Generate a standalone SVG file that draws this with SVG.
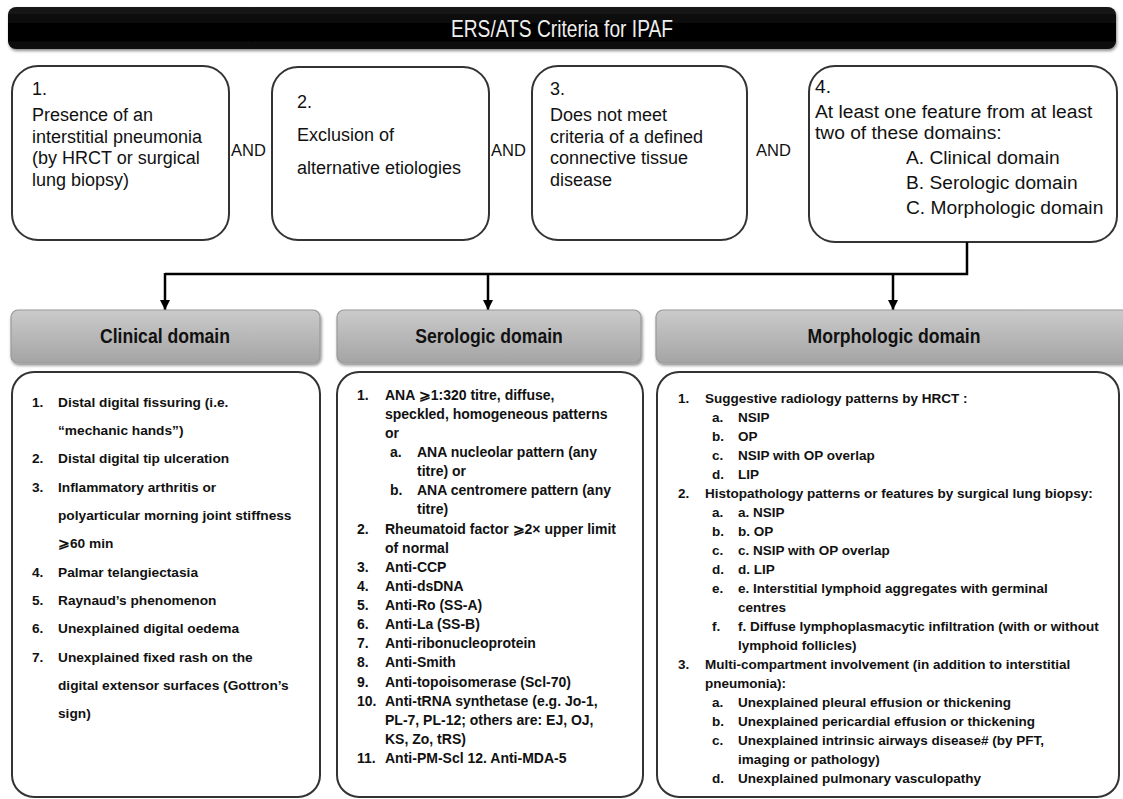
<svg xmlns="http://www.w3.org/2000/svg" width="1123" height="799" viewBox="0 0 1123 799">
<defs>
<linearGradient id="hdr" x1="0" y1="0" x2="0" y2="1">
<stop offset="0" stop-color="#cbcbcb"/>
<stop offset="1" stop-color="#a4a4a4"/>
</linearGradient>
<linearGradient id="ttl" x1="0" y1="0" x2="0" y2="1">
<stop offset="0" stop-color="#1a1a1a"/>
<stop offset="0.5" stop-color="#000"/>
<stop offset="1" stop-color="#0a0a0a"/>
</linearGradient>
<filter id="sh" x="-5%" y="-20%" width="110%" height="150%">
<feDropShadow dx="1" dy="2" stdDeviation="1.5" flood-color="#000" flood-opacity="0.45"/>
</filter>
<marker id="arr" viewBox="0 0 10 10" refX="10" refY="5" markerWidth="10" markerHeight="10" markerUnits="userSpaceOnUse" orient="auto">
<path d="M0,0 L10,5 L0,10 z" fill="#000"/>
</marker>
<style>
.box{fill:#fff;stroke:#333;stroke-width:2}
.hbox{fill:url(#hdr);stroke:#999;stroke-width:1.2}
.t1{font-family:"Liberation Sans",Arial,sans-serif;font-size:18px;fill:#111}
.t4{font-family:"Liberation Sans",Arial,sans-serif;font-size:19.2px;fill:#111}
.and{font-family:"Liberation Sans",Arial,sans-serif;font-size:16.5px;fill:#111}
.hd{font-family:"Liberation Sans",Arial,sans-serif;font-size:20px;font-weight:bold;fill:#111;text-anchor:middle}
.ttl{font-family:"Liberation Sans",Arial,sans-serif;font-size:24px;fill:#eee;text-anchor:middle}
.lc{font-family:"Liberation Sans",Arial,sans-serif;font-size:13.7px;font-weight:bold;fill:#111}
.ls{font-family:"Liberation Sans",Arial,sans-serif;font-size:14px;font-weight:bold;fill:#111}
.lm{font-family:"Liberation Sans",Arial,sans-serif;font-size:13.5px;font-weight:bold;fill:#111}
.con{fill:none;stroke:#000;stroke-width:2.5}
</style>
</defs>

<g id="title">
<rect x="8" y="7" width="1108" height="42" rx="8" fill="url(#ttl)" filter="url(#sh)"/>
<text class="ttl" transform="translate(562,37) scale(0.8,1)" x="0" y="0">ERS/ATS Criteria for IPAF</text>
</g>

<g id="crit1">
<rect class="box" x="12" y="66" width="217" height="174" rx="26"/>
<text class="t1"><tspan x="32" y="95">1.</tspan><tspan x="32" y="121">Presence of an</tspan><tspan x="32" y="143">interstitial pneumonia</tspan><tspan x="32" y="164">(by HRCT or surgical</tspan><tspan x="32" y="186">lung biopsy)</tspan></text>
</g>
<text class="and" x="231" y="156">AND</text>

<g id="crit2">
<rect class="box" x="272" y="67" width="217" height="173" rx="26"/>
<text class="t1"><tspan x="297" y="108">2.</tspan><tspan x="297" y="141">Exclusion of</tspan><tspan x="297" y="174">alternative etiologies</tspan></text>
</g>
<text class="and" x="491" y="156">AND</text>

<g id="crit3">
<rect class="box" x="532" y="66" width="215" height="174" rx="26"/>
<text class="t1"><tspan x="550" y="95">3.</tspan><tspan x="550" y="121">Does not meet</tspan><tspan x="550" y="143">criteria of a defined</tspan><tspan x="550" y="164">connective tissue</tspan><tspan x="550" y="186">disease</tspan></text>
</g>
<text class="and" x="756" y="156">AND</text>

<g id="crit4">
<rect class="box" x="809" y="66" width="308" height="176" rx="26"/>
<text class="t4"><tspan x="815" y="93">4.</tspan><tspan x="815" y="118">At least one feature from at least</tspan><tspan x="815" y="139">two of these domains:</tspan><tspan x="906" y="164">A. Clinical domain</tspan><tspan x="906" y="189">B. Serologic domain</tspan><tspan x="906" y="214">C. Morphologic domain</tspan></text>
</g>

<g id="connectors">
<polyline class="con" points="967,242 967,274 165,274"/>
<line class="con" x1="165" y1="273" x2="165" y2="310" marker-end="url(#arr)"/>
<line class="con" x1="488" y1="274" x2="488" y2="310" marker-end="url(#arr)"/>
<line class="con" x1="893" y1="274" x2="893" y2="310" marker-end="url(#arr)"/>
</g>

<g id="hdr-clinical">
<rect class="hbox" x="11" y="310" width="309" height="53" rx="7" filter="url(#sh)"/>
<text class="hd" transform="translate(165,343) scale(0.88,1)" x="0" y="0">Clinical domain</text>
</g>
<g id="hdr-serologic">
<rect class="hbox" x="337" y="310" width="304" height="53" rx="7" filter="url(#sh)"/>
<text class="hd" transform="translate(489,343) scale(0.88,1)" x="0" y="0">Serologic domain</text>
</g>
<g id="hdr-morphologic">
<rect class="hbox" x="656" y="310" width="475" height="53" rx="7" filter="url(#sh)"/>
<text class="hd" transform="translate(894,343) scale(0.88,1)" x="0" y="0">Morphologic domain</text>
</g>

<g id="list-clinical">
<rect class="box" x="12" y="372" width="308" height="425" rx="22"/>
<text class="lc">
<tspan x="32" y="407">1.</tspan><tspan x="58" y="407">Distal digital fissuring (i.e.</tspan>
<tspan x="58" y="435">“mechanic hands”)</tspan>
<tspan x="32" y="463">2.</tspan><tspan x="58" y="463">Distal digital tip ulceration</tspan>
<tspan x="32" y="492">3.</tspan><tspan x="58" y="492">Inflammatory arthritis or</tspan>
<tspan x="58" y="520">polyarticular morning joint stiffness</tspan>
<tspan x="58" y="548">⩾60 min</tspan>
<tspan x="32" y="577">4.</tspan><tspan x="58" y="577">Palmar telangiectasia</tspan>
<tspan x="32" y="605">5.</tspan><tspan x="58" y="605">Raynaud’s phenomenon</tspan>
<tspan x="32" y="633">6.</tspan><tspan x="58" y="633">Unexplained digital oedema</tspan>
<tspan x="32" y="662">7.</tspan><tspan x="58" y="662">Unexplained fixed rash on the</tspan>
<tspan x="58" y="690">digital extensor surfaces (Gottron’s</tspan>
<tspan x="58" y="718">sign)</tspan>
</text>
</g>

<g id="list-serologic">
<rect class="box" x="337" y="372" width="306" height="425" rx="22"/>
<text class="ls">
<tspan x="357" y="400">1.</tspan><tspan x="385" y="400">ANA ⩾1:320 titre, diffuse,</tspan>
<tspan x="385" y="419">speckled, homogeneous patterns</tspan>
<tspan x="385" y="438">or</tspan>
<tspan x="390" y="457">a.</tspan><tspan x="417" y="457">ANA nucleolar pattern (any</tspan>
<tspan x="417" y="476">titre) or</tspan>
<tspan x="390" y="495">b.</tspan><tspan x="417" y="495">ANA centromere pattern (any</tspan>
<tspan x="417" y="514">titre)</tspan>
<tspan x="357" y="534">2.</tspan><tspan x="385" y="534">Rheumatoid factor ⩾2× upper limit</tspan>
<tspan x="385" y="553">of normal</tspan>
<tspan x="357" y="572">3.</tspan><tspan x="385" y="572">Anti-CCP</tspan>
<tspan x="357" y="591">4.</tspan><tspan x="385" y="591">Anti-dsDNA</tspan>
<tspan x="357" y="610">5.</tspan><tspan x="385" y="610">Anti-Ro (SS-A)</tspan>
<tspan x="357" y="629">6.</tspan><tspan x="385" y="629">Anti-La (SS-B)</tspan>
<tspan x="357" y="648">7.</tspan><tspan x="385" y="648">Anti-ribonucleoprotein</tspan>
<tspan x="357" y="667">8.</tspan><tspan x="385" y="667">Anti-Smith</tspan>
<tspan x="357" y="687">9.</tspan><tspan x="385" y="687">Anti-topoisomerase (Scl-70)</tspan>
<tspan x="357" y="706">10.</tspan><tspan x="385" y="706">Anti-tRNA synthetase (e.g. Jo-1,</tspan>
<tspan x="385" y="725">PL-7, PL-12; others are: EJ, OJ,</tspan>
<tspan x="385" y="744">KS, Zo, tRS)</tspan>
<tspan x="357" y="763">11.</tspan><tspan x="385" y="763">Anti-PM-Scl 12. Anti-MDA-5</tspan>
</text>
</g>

<g id="list-morphologic">
<rect class="box" x="657" y="372" width="462" height="425" rx="22"/>
<text class="lm">
<tspan x="678" y="403">1.</tspan><tspan x="705" y="403">Suggestive radiology patterns by HRCT :</tspan>
<tspan x="712" y="422">a.</tspan><tspan x="738" y="422">NSIP</tspan>
<tspan x="712" y="441">b.</tspan><tspan x="738" y="441">OP</tspan>
<tspan x="712" y="460">c.</tspan><tspan x="738" y="460">NSIP with OP overlap</tspan>
<tspan x="712" y="479">d.</tspan><tspan x="738" y="479">LIP</tspan>
<tspan x="678" y="498">2.</tspan><tspan x="705" y="498">Histopathology patterns or features by surgical lung biopsy:</tspan>
<tspan x="712" y="517">a.</tspan><tspan x="738" y="517">a. NSIP</tspan>
<tspan x="712" y="536">b.</tspan><tspan x="738" y="536">b. OP</tspan>
<tspan x="712" y="555">c.</tspan><tspan x="738" y="555">c. NSIP with OP overlap</tspan>
<tspan x="712" y="574">d.</tspan><tspan x="738" y="574">d. LIP</tspan>
<tspan x="712" y="593">e.</tspan><tspan x="738" y="593">e. Interstitial lymphoid aggregates with germinal</tspan>
<tspan x="738" y="612">centres</tspan>
<tspan x="712" y="631">f.</tspan><tspan x="738" y="631">f. Diffuse lymphoplasmacytic infiltration (with or without</tspan>
<tspan x="738" y="650">lymphoid follicles)</tspan>
<tspan x="678" y="669">3.</tspan><tspan x="705" y="669">Multi-compartment involvement (in addition to interstitial</tspan>
<tspan x="705" y="688">pneumonia):</tspan>
<tspan x="712" y="707">a.</tspan><tspan x="738" y="707">Unexplained pleural effusion or thickening</tspan>
<tspan x="712" y="726">b.</tspan><tspan x="738" y="726">Unexplained pericardial effusion or thickening</tspan>
<tspan x="712" y="745">c.</tspan><tspan x="738" y="745">Unexplained intrinsic airways disease# (by PFT,</tspan>
<tspan x="738" y="764">imaging or pathology)</tspan>
<tspan x="712" y="783">d.</tspan><tspan x="738" y="783">Unexplained pulmonary vasculopathy</tspan>
</text>
</g>
</svg>
